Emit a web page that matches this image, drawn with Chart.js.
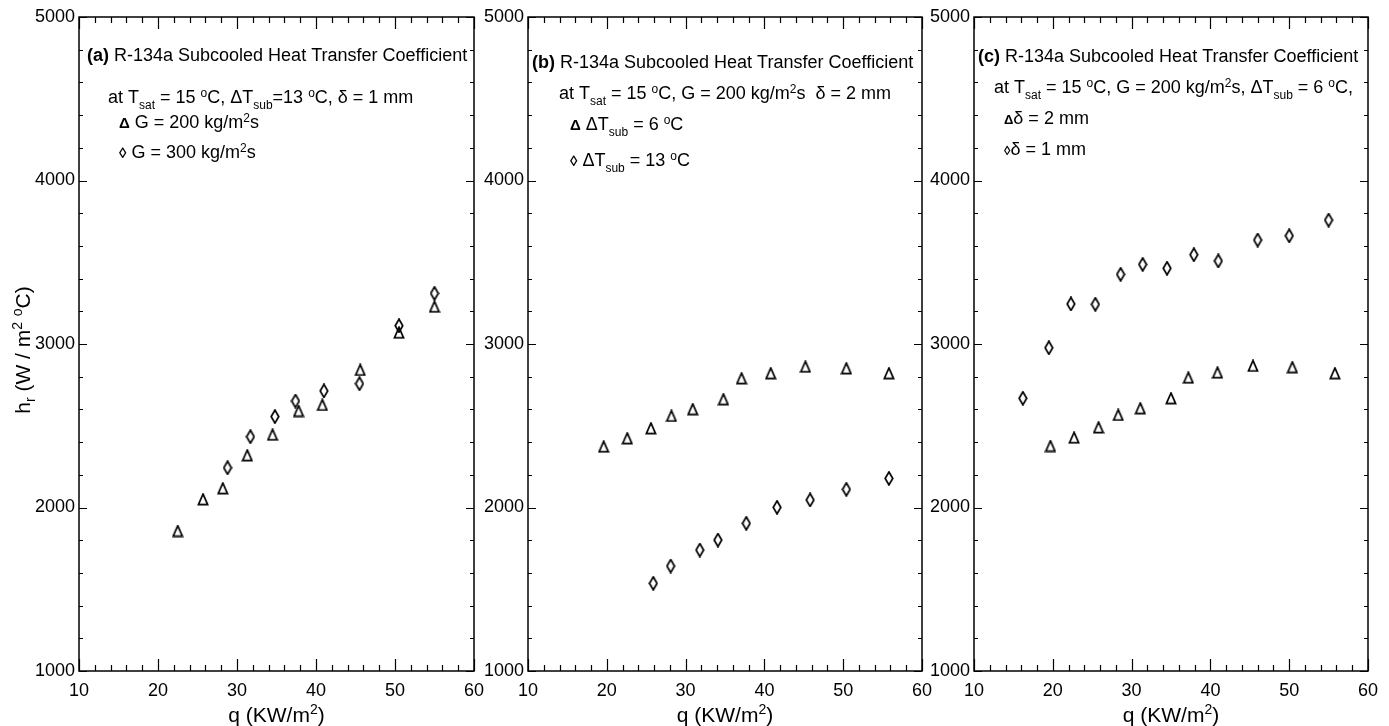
<!DOCTYPE html>
<html>
<head>
<meta charset="utf-8">
<script src="https://cdn.jsdelivr.net/npm/chart.js@4.4.1/dist/chart.umd.min.js"></script>
<style>
html,body{margin:0;padding:0;background:#fff;}
#wrap{position:relative;width:1389px;height:726px;overflow:hidden;}
#wrap canvas{position:absolute;left:0;top:0;}
</style>
</head>
<body>
<div id="wrap">
<canvas id="ca" width="1389" height="726"></canvas>
<canvas id="cb" width="1389" height="726"></canvas>
<canvas id="cc" width="1389" height="726"></canvas>
</div>
<script>
// ---------------- DATA ----------------
const xTicks = [10, 20, 30, 40, 50, 60];
const yTicks = [1000, 2000, 3000, 4000, 5000];

// Panel (a): G = 200 (triangles), G = 300 (diamonds)
const aTriX = [22.5, 25.7, 28.2, 31.3, 34.5, 37.8, 40.8, 45.6, 50.5, 55.0];
const aTriY = [1856, 2050, 2117, 2319, 2445, 2590, 2627, 2841, 3069, 3228];
const aDiaX = [28.8, 31.7, 34.8, 37.4, 41.0, 45.5, 50.5, 55.0];
const aDiaY = [2243, 2433, 2556, 2651, 2713, 2757, 3112, 3310];

// Panel (b): dTsub = 6 (triangles), dTsub = 13 (diamonds)
const bTriX = [19.6, 22.6, 25.6, 28.2, 30.9, 34.8, 37.1, 40.8, 45.2, 50.4, 55.8];
const bTriY = [2372, 2423, 2484, 2560, 2601, 2662, 2790, 2821, 2861, 2851, 2821];
const bDiaX = [25.9, 28.1, 31.8, 34.1, 37.7, 41.6, 45.8, 50.4, 55.8];
const bDiaY = [1536, 1642, 1740, 1801, 1903, 2001, 2046, 2111, 2178];

// Panel (c): delta = 2 mm (triangles), delta = 1 mm (diamonds)
const cTriX = [19.7, 22.7, 25.8, 28.3, 31.1, 35.0, 37.2, 40.9, 45.4, 50.4, 55.8];
const cTriY = [2376, 2427, 2490, 2566, 2607, 2668, 2794, 2825, 2866, 2858, 2821];
const cDiaX = [16.2, 19.5, 22.3, 25.4, 28.6, 31.4, 34.5, 37.9, 41.0, 46.0, 50.0, 55.0];
const cDiaY = [2668, 2977, 3245, 3243, 3426, 3487, 3463, 3546, 3508, 3636, 3662, 3758];

// Annotation texts (segments: [text, style]) style: n normal, b bold, sub, sup, m / ms marker glyph
const annA = [
  [["(a)","b"],[" R-134a Subcooled Heat Transfer Coefficient","n"]],
  [["at T","n"],["sat","sub"],[" = 15 ","n"],["o","sup"],["C, \u0394T","n"],["sub","sub"],["=13 ","n"],["o","sup"],["C, \u03b4 = 1 mm","n"]],
  [["\u0394","m"],[" G = 200 kg/m","n"],["2","sup"],["s","n"]],
  [["\u25CA","m"],[" G = 300 kg/m","n"],["2","sup"],["s","n"]]
];
const annB = [
  [["(b)","b"],[" R-134a Subcooled Heat Transfer Coefficient","n"]],
  [["at T","n"],["sat","sub"],[" = 15 ","n"],["o","sup"],["C, G = 200 kg/m","n"],["2","sup"],["s  \u03b4 = 2 mm","n"]],
  [["\u0394","m"],[" \u0394T","n"],["sub","sub"],[" = 6 ","n"],["o","sup"],["C","n"]],
  [["\u25CA","m"],[" \u0394T","n"],["sub","sub"],[" = 13 ","n"],["o","sup"],["C","n"]]
];
const annC = [
  [["(c)","b"],[" R-134a Subcooled Heat Transfer Coefficient","n"]],
  [["at T","n"],["sat","sub"],[" = 15 ","n"],["o","sup"],["C, G = 200 kg/m","n"],["2","sup"],["s, \u0394T","n"],["sub","sub"],[" = 6 ","n"],["o","sup"],["C,","n"]],
  [["\u0394","ms"],["\u03b4 = 2 mm","n"]],
  [["\u25CA","ms"],["\u03b4 = 1 mm","n"]]
];
const xTitle = [["q (KW/m","n"],["2","sup"],[")","n"]];
const yTitle = [["h","n"],["r","sub"],[" (W / m","n"],["2","sup"],[" ","n"],["o","sup"],["C)","n"]];

// ---------------- STYLE / HELPERS ----------------
const FONT = "'Liberation Sans', Arial, Helvetica, sans-serif";

function makeTri(){
  const c = document.createElement('canvas'); c.width = 12; c.height = 13;
  const g = c.getContext('2d');
  g.strokeStyle = '#000'; g.lineWidth = 1.7; g.lineJoin = 'miter';
  g.beginPath(); g.moveTo(6, 1.2); g.lineTo(10.6, 11.6); g.lineTo(1.4, 11.6); g.closePath(); g.stroke();
  return c;
}
function makeDia(){
  const c = document.createElement('canvas'); c.width = 10; c.height = 15;
  const g = c.getContext('2d');
  g.strokeStyle = '#000'; g.lineWidth = 1.7;
  g.beginPath(); g.moveTo(5, 1); g.lineTo(8.8, 7.5); g.lineTo(5, 14); g.lineTo(1.2, 7.5); g.closePath(); g.stroke();
  return c;
}
const triImg = makeTri();
const diaImg = makeDia();

function segFont(style, size){
  if (style === 'b') return 'bold ' + size + 'px ' + FONT;
  if (style === 'sub' || style === 'sup') return Math.round(size*0.66) + 'px ' + FONT;
  if (style === 'm') return 'bold ' + Math.round(size*0.85) + 'px ' + FONT;
  if (style === 'ms') return 'bold ' + Math.round(size*0.72) + 'px ' + FONT;
  return size + 'px ' + FONT;
}
function richWidth(ctx, segs, size){
  let w = 0;
  for (const [t, s] of segs){ ctx.font = segFont(s, size); w += ctx.measureText(t).width; }
  return w;
}
function drawRich(ctx, segs, x, yc, size, align){
  ctx.save();
  ctx.fillStyle = '#000';
  ctx.textBaseline = 'alphabetic';
  ctx.textAlign = 'left';
  let cx = x;
  if (align === 'center') cx = x - richWidth(ctx, segs, size)/2;
  const base = yc + size*0.36;
  for (const [t, s] of segs){
    ctx.font = segFont(s, size);
    let dy = 0;
    if (s === 'sub') dy = size*0.28;
    if (s === 'sup') dy = -size*0.38;
    ctx.fillText(t, cx, base + dy);
    cx += ctx.measureText(t).width;
  }
  ctx.restore();
}

function zip(xs, ys){ return xs.map((x, i) => ({x: x, y: ys[i]})); }

const framePlugin = {
  id: 'frameTicks',
  afterDraw(chart, args, opts){
    const ctx = chart.ctx, a = chart.chartArea;
    const xs = chart.scales.x, ys = chart.scales.y;
    ctx.save();
    ctx.strokeStyle = '#000';
    ctx.lineWidth = 1.5;
    ctx.strokeRect(a.left, a.top, a.right - a.left, a.bottom - a.top);
    ctx.lineWidth = 1.2;
    ctx.beginPath();
    for (let v = xs.min; v <= xs.max + 1e-9; v += 2){
      const p = Math.round(xs.getPixelForValue(v)) + 0.5;
      const major = Math.abs(v % 10) < 1e-6;
      const L = major ? 12 : 6;
      ctx.moveTo(p, a.bottom); ctx.lineTo(p, a.bottom - L);
      ctx.moveTo(p, a.top); ctx.lineTo(p, a.top + L);
    }
    for (let v = ys.min; v <= ys.max + 1e-9; v += 200){
      const p = Math.round(ys.getPixelForValue(v)) + 0.5;
      const major = Math.abs(v % 1000) < 1e-6;
      const L = major ? 8 : 4;
      ctx.moveTo(a.left, p); ctx.lineTo(a.left + L, p);
      ctx.moveTo(a.right, p); ctx.lineTo(a.right - L, p);
    }
    ctx.stroke();
    ctx.restore();

    // annotations
    const ann = opts.ann;
    for (let i = 0; i < ann.length; i++){
      drawRich(ctx, ann[i], opts.annX[i], opts.annY[i], 18);
    }
    // x title
    drawRich(ctx, xTitle, (a.left + a.right)/2, 714, 21, 'center');
    // y title
    if (opts.yTitle){
      ctx.save();
      ctx.translate(22, 350);
      ctx.rotate(-Math.PI/2);
      drawRich(ctx, yTitle, 0, 0, 21, 'center');
      ctx.restore();
    }
  }
};

function makeChart(id, triX, triY, diaX, diaY, padL, yW, padR, ann, annX, annY, showYTitle){
  return new Chart(document.getElementById(id), {
    type: 'scatter',
    data: {
      datasets: [
        {data: zip(triX, triY), pointStyle: triImg, pointRadius: 6, showLine: false},
        {data: zip(diaX, diaY), pointStyle: diaImg, pointRadius: 6, showLine: false}
      ]
    },
    options: {
      responsive: false,
      animation: false,
      events: [],
      layout: {padding: {left: padL, right: padR, top: 17, bottom: 0}},
      plugins: {
        legend: {display: false},
        tooltip: {enabled: false},
        frameTicks: {ann: ann, annX: annX, annY: annY, yTitle: showYTitle}
      },
      scales: {
        x: {
          type: 'linear', min: 10, max: 60,
          afterBuildTicks: s => { s.ticks = xTicks.map(v => ({value: v})); },
          ticks: {color: '#000', font: {family: FONT, size: 18}, padding: 9, maxRotation: 0,
                  callback: v => String(v)},
          grid: {display: false, drawTicks: false},
          border: {display: false},
          afterFit: s => { s.height = 55; }
        },
        y: {
          type: 'linear', min: 1000, max: 5000,
          afterBuildTicks: s => { s.ticks = yTicks.map(v => ({value: v})); },
          ticks: {color: '#000', font: {family: FONT, size: 18}, padding: 4,
                  callback: v => String(v)},
          grid: {display: false, drawTicks: false},
          border: {display: false},
          afterFit: s => { s.width = yW; }
        }
      }
    },
    plugins: [framePlugin]
  });
}

makeChart('ca', aTriX, aTriY, aDiaX, aDiaY, 0, 79, 1389 - 474, annA,
  [87, 108, 119, 119], [55, 97, 122, 152], true);
makeChart('cb', bTriX, bTriY, bDiaX, bDiaY, 468, 60, 1389 - 922, annB,
  [532, 559, 570, 570], [62, 93, 124, 160], false);
makeChart('cc', cTriX, cTriY, cDiaX, cDiaY, 914, 60, 1389 - 1368, annC,
  [978, 994, 1004, 1004], [56, 87, 118, 149], false);
</script>
</body>
</html>
